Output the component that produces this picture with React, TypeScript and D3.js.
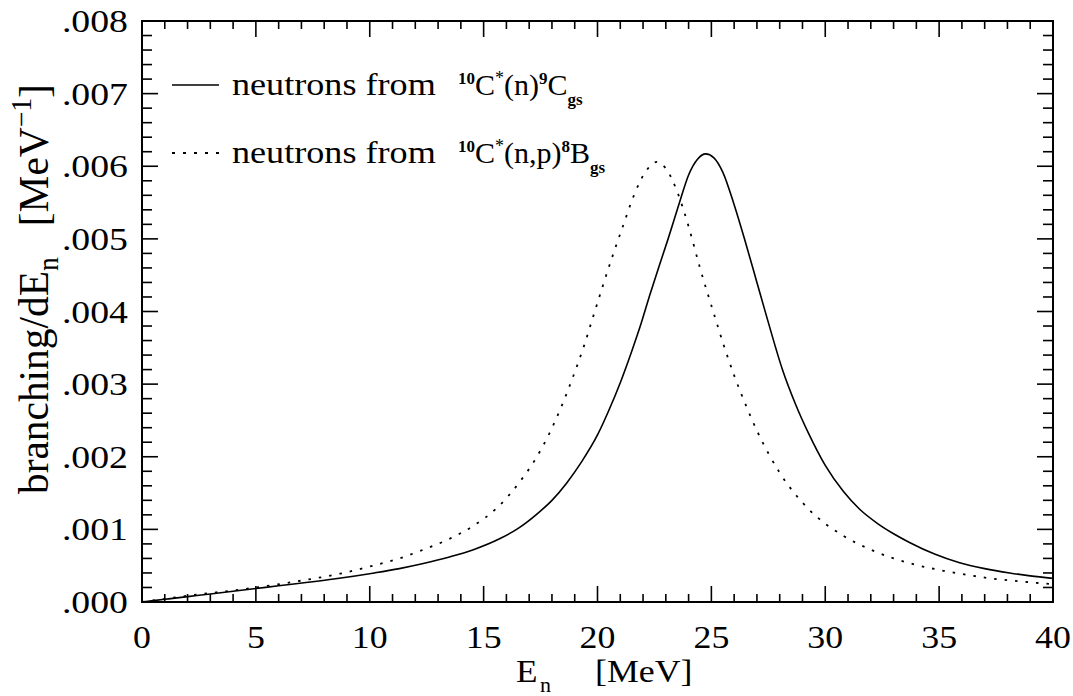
import React from "react";
import * as d3 from "d3";

// Solid: neutrons from 10C*(n)9C_gs  (E in MeV, value in 1e-3 MeV^-1)
const solidE = [0, 1, 2, 3, 4, 5, 6, 7.2, 8.5, 10.2, 11.3, 12.35, 13.5, 14.55, 15.7, 16.5, 17.3, 18.0, 18.65, 19.3, 20.0, 20.5, 21.0, 21.5, 21.9, 22.3, 22.7, 23.1, 23.6, 24.0, 24.4, 24.75, 25.1, 25.5, 26.0, 26.5, 27.0, 27.5, 28.1, 28.7, 29.3, 30.0, 30.8, 31.5, 32.3, 33.0, 33.7, 34.8, 35.9, 37.0, 38.1, 39.0, 40];
const solidV = [0, 0.037, 0.074, 0.11, 0.147, 0.185, 0.224, 0.268, 0.32, 0.4, 0.46, 0.53, 0.62, 0.72, 0.87, 1.01, 1.2, 1.4, 1.64, 1.93, 2.3, 2.64, 3.02, 3.45, 3.82, 4.23, 4.62, 5.0, 5.5, 5.88, 6.1, 6.17, 6.12, 5.92, 5.47, 4.95, 4.4, 3.85, 3.22, 2.72, 2.3, 1.88, 1.52, 1.28, 1.08, 0.94, 0.82, 0.66, 0.54, 0.46, 0.4, 0.36, 0.325];

// Dotted: neutrons from 10C*(n,p)8B_gs
const dotE = [0, 2, 5, 7.2, 8.7, 10.2, 11.3, 12.35, 13.5, 14.55, 15.6, 16.6, 17.3, 17.9, 18.4, 18.9, 19.4, 19.8, 20.2, 20.7, 21.1, 21.6, 22.1, 22.6, 23.0, 23.5, 24.0, 24.5, 25.1, 25.6, 26.0, 26.5, 27.0, 28.0, 29.3, 30.8, 32.0, 33.0, 34.0, 35.2, 36.3, 37.4, 38.7, 40];
const dotV = [0, 0.085, 0.2, 0.305, 0.39, 0.505, 0.6, 0.72, 0.87, 1.05, 1.3, 1.66, 1.98, 2.33, 2.68, 3.08, 3.52, 3.92, 4.32, 4.8, 5.16, 5.6, 5.92, 6.06, 5.97, 5.65, 5.17, 4.6, 3.98, 3.48, 3.12, 2.72, 2.36, 1.78, 1.27, 0.91, 0.72, 0.6, 0.51, 0.43, 0.37, 0.32, 0.28, 0.245];

const xTicks = [0, 5, 10, 15, 20, 25, 30, 35, 40];
const yTicks = [0, 0.001, 0.002, 0.003, 0.004, 0.005, 0.006, 0.007, 0.008];

const W = 1073, H = 696;
const L = 142, R = 1053, T = 21, B = 602;
const FONT = "'Liberation Serif', 'Times New Roman', serif";

function HT(props: { x: number; y: number; sx?: number; size?: number; anchor?: string; children: React.ReactNode }) {
  const { x, y, sx = 1, size = 32, anchor = "start", children } = props;
  return (
    <text transform={`translate(${x},${y}) scale(${sx},1)`} fontFamily={FONT} fontSize={size} textAnchor={anchor as any} fill="#000">
      {children}
    </text>
  );
}

export default function App() {
  const x = d3.scaleLinear().domain([0, 40]).range([L, R]);
  const y = d3.scaleLinear().domain([0, 0.008]).range([B, T]);
  const line = d3.line<[number, number]>()
    .x((d) => x(d[0]))
    .y((d) => y(d[1] / 1000))
    .curve(d3.curveMonotoneX);
  const solid = solidE.map((e, i) => [e, solidV[i]] as [number, number]);
  const dotted = dotE.map((e, i) => [e, dotV[i]] as [number, number]);

  const xMinor = d3.range(0, 41, 1);
  const yMinor = d3.range(0, 41, 1).map((i) => i * 0.0002);
  const fmtY = (v: number) => d3.format(".3f")(v).replace(/^0/, "");

  const tk: JSX.Element[] = [];
  xMinor.forEach((v, i) => {
    const len = v % 5 === 0 ? 16 : 8;
    const px = x(v);
    tk.push(<line key={"xb" + i} x1={px} x2={px} y1={B} y2={B - len} />);
    tk.push(<line key={"xt" + i} x1={px} x2={px} y1={T} y2={T + len} />);
  });
  yMinor.forEach((v, i) => {
    const len = i % 5 === 0 ? 16 : 10;
    const py = y(v);
    tk.push(<line key={"yl" + i} x1={L} x2={L + len} y1={py} y2={py} />);
    tk.push(<line key={"yr" + i} x1={R} x2={R - len} y1={py} y2={py} />);
  });

  const sub = { fontFamily: FONT, fontWeight: "bold" as const, fontSize: 17 };

  return (
    <svg width={W} height={H} style={{ position: "absolute", left: 0, top: 0, background: "#fff" }}>
      <rect x={0} y={0} width={W} height={H} fill="#fff" />
      <g stroke="#000" strokeWidth={1.6}>{tk}</g>
      <rect x={L} y={T} width={R - L} height={B - T} fill="none" stroke="#000" strokeWidth={2} />

      <path d={line(solid) || ""} fill="none" stroke="#000" strokeWidth={1.6} />
      <path d={line(dotted) || ""} fill="none" stroke="#000" strokeWidth={1.8} strokeDasharray="2.5 8" />

      {xTicks.map((v) => (
        <HT key={"xl" + v} x={x(v)} y={648} sx={1.12} anchor="middle">{v}</HT>
      ))}
      {yTicks.map((v) => (
        <HT key={"yl" + v} x={128} y={y(v) + 11} sx={1.18} anchor="end">{fmtY(v)}</HT>
      ))}

      {/* x label */}
      <HT x={516} y={682} sx={1.1}>E</HT>
      <HT x={540} y={692} sx={1.1} size={20}>n</HT>
      <HT x={595} y={682} sx={1.12}>[MeV]</HT>

      {/* y label */}
      <text transform="translate(48,494) rotate(-90) scale(1.15,1.2)" fontFamily={FONT} fontSize={36} fill="#000">
        branching/dE
        <tspan fontSize={24} dy={8}>n</tspan>
        <tspan dy={-8}>{"\u00a0\u00a0\u00a0"}[MeV</tspan>
        <tspan fontSize={24} dy={-14}>−1</tspan>
        <tspan dy={14}>]</tspan>
      </text>

      {/* legend */}
      <line x1={172} x2={219} y1={85} y2={85} stroke="#000" strokeWidth={1.6} />
      <line x1={172} x2={219} y1={153} y2={153} stroke="#000" strokeWidth={1.8} strokeDasharray="3 8" />
      <HT x={232} y={95} sx={1.13}>neutrons{"\u00a0"}from</HT>
      <text x={458} y={95} fontFamily={FONT} fontSize={30}>
        <tspan {...sub} dy={-11}>10</tspan>
        <tspan dy={11}>C</tspan>
        <tspan fontFamily={FONT} fontSize={18} dy={-11}>*</tspan>
        <tspan dy={11}>(n)</tspan>
        <tspan {...sub} dy={-11}>9</tspan>
        <tspan dy={11}>C</tspan>
        <tspan {...sub} dy={10}>gs</tspan>
      </text>
      <HT x={232} y={163} sx={1.13}>neutrons{"\u00a0"}from</HT>
      <text x={458} y={163} fontFamily={FONT} fontSize={30}>
        <tspan {...sub} dy={-11}>10</tspan>
        <tspan dy={11}>C</tspan>
        <tspan fontFamily={FONT} fontSize={18} dy={-11}>*</tspan>
        <tspan dy={11}>(n,p)</tspan>
        <tspan {...sub} dy={-11}>8</tspan>
        <tspan dy={11}>B</tspan>
        <tspan {...sub} dy={10}>gs</tspan>
      </text>
    </svg>
  );
}
